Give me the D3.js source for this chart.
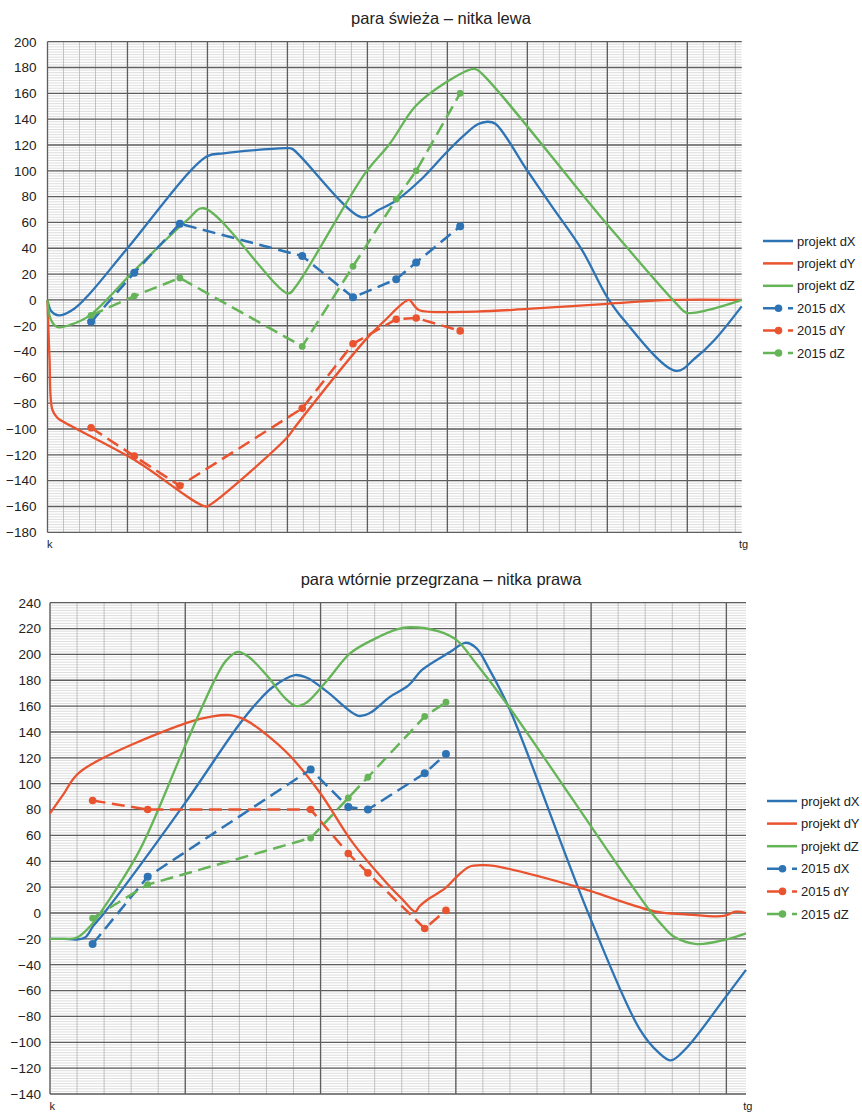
<!DOCTYPE html>
<html>
<head>
<meta charset="utf-8">
<script src="https://cdn.jsdelivr.net/npm/d3@7"></script>
<style>
  body { margin: 0; background: #fff; }
  svg text { font-family: "Liberation Sans", Arial, sans-serif; fill: #222; }
</style>
</head>
<body>
<svg id="chart" width="862" height="1116"></svg>
<script>
// ---- chart 1: para świeża – nitka lewa ----
const freshTitle = "para świeża – nitka lewa";
const freshXMax = 86.8;
const freshYTicks = d3.range(-180, 201, 20);

const freshDxPos = [0, 0.5, 1.4, 3.3, 5.3, 10, 19.9, 22, 26, 30, 30.6, 39.3, 41.5, 43.6, 47, 49.7, 52, 53.8, 55, 56, 59.9, 63, 66.8, 69.9, 72, 78.6, 81, 83.4, 86.8];
const freshDxVal = [0, -9, -12, -7, 5, 40, 111, 113.5, 116, 117.5, 117, 64, 70, 77, 95, 113, 127, 136, 138, 136.5, 101, 73, 39, 3, -15, -55, -45, -31, -5];

const freshDyPos = [0, 0.25, 0.6, 1.2, 1.6, 10.9, 19.8, 20.5, 29.9, 31, 39.9, 42, 45.2, 45.8, 46.5, 53.6, 60, 70, 78.2, 86.8];
const freshDyVal = [0, -45, -85, -91, -93, -124, -160, -158, -107, -98, -30, -17, 0, -4, -8, -9, -7, -3, 0, 0];

const freshDzPos = [0, 0.4, 1.2, 3, 5.3, 10.9, 17.5, 19.5, 30.1, 31, 39.7, 42.8, 46, 49.7, 53.2, 53.8, 69.9, 78.8, 79.9, 83.4, 86.8];
const freshDzVal = [0, -15, -21, -19, -12, 23, 62, 71, 5, 10, 98, 121, 150, 168, 179, 178, 59, -4, -10, -6.5, 0];

const fresh2015Pos = [5.45, 10.85, 16.55, 31.85, 38.2, 43.6, 46.1, 51.6];
const fresh2015Dx = [-17, 21, 59, 34, 2, 16, 29, 57];
const fresh2015Dy = [-99, -121, -144, -84, -34, -15, -14, -24];
const fresh2015Dz = [-12, 3, 17, -36, 26, 78, 100, 160];

// ---- chart 2: para wtórnie przegrzana – nitka prawa ----
const reheatTitle = "para wtórnie przegrzana – nitka prawa";
const reheatXMax = 51.45;
const reheatYTicks = d3.range(-140, 241, 20);

const reheatDxPos = [0, 1, 2, 2.6, 3.2, 4, 9.98, 14, 15.5, 16.5, 18.1, 19, 20.5, 22.8, 23.7, 25.1, 26.5, 27.5, 29.6, 30.7, 31.5, 32.5, 34, 39.9, 43.6, 45, 45.9, 47, 49.8, 51.45];
const reheatDxVal = [-20, -20, -20.5, -19, -10, 0, 85, 146, 165, 175, 184, 182, 171, 152.5, 155, 167, 176, 188, 202, 209, 205, 188, 157, -3, -90, -108, -114, -105, -67, -44];

const reheatDyPos = [0, 1, 2.2, 10.1, 12, 13.3, 14.5, 16, 17.7, 19.96, 22.4, 24.9, 26.1, 27, 27.3, 28, 29.2, 30.06, 31, 32, 32.8, 38.9, 44.8, 47, 49.8, 50.7, 51.45];
const reheatDyVal = [77, 92, 109, 147, 152, 153, 149, 138, 122, 93, 54, 23, 10, 1, 5, 11, 19, 28, 35.8, 37, 36.5, 20.4, 1, -1, -2.3, 1, 0];

const reheatDzPos = [0, 1, 2, 3, 4.2, 6.65, 9.85, 12.07, 13, 13.87, 14.7, 16, 17.4, 18.2, 19, 20.5, 22.2, 24, 25.7, 26.6, 28.8, 30.06, 31.5, 33.75, 44.3, 45.3, 46.07, 47.8, 49.8, 51.45];
const reheatDzVal = [-20, -20, -19, -10, 7.5, 49, 126, 178, 195, 202, 198, 184, 166, 160, 163, 180, 201, 212, 219.5, 221, 217.6, 211, 193, 162, 2.3, -10, -18, -24, -21, -15.7];

const reheat2015Pos = [3.15, 7.22, 19.27, 22.05, 23.5, 27.7, 29.27];
const reheat2015Dx = [-24, 28, 111, 82, 80, 108, 123];
const reheat2015Dy = [87, 80, 80, 46, 31, -12, 2];
const reheat2015Dz = [-4, 22, 58, 89, 105, 152, 163];

const seriesNames = ["projekt dX", "projekt dY", "projekt dZ", "2015 dX", "2015 dY", "2015 dZ"];
const xEndLabels = ["k", "tg"];

const colBlue = "#2e74b5", colRed = "#e9532f", colGreen = "#65b457";

const zip = (xs, ys) => xs.map((x, i) => [x, ys[i]]);

const svg = d3.select("#chart");

function drawChart(cfg) {
  const g = svg.append("g");
  const x = d3.scaleLinear().domain([0, cfg.xMax]).range([cfg.left, cfg.right]);
  const y = d3.scaleLinear().domain([cfg.yTicks[0], cfg.yTicks[cfg.yTicks.length - 1]]).range([cfg.bottom, cfg.top]);
  const [y0, y1] = y.domain();

  // title
  g.append("text").attr("x", cfg.titleX).attr("y", cfg.titleY)
    .attr("text-anchor", "middle").style("font-size", "16.5px").text(cfg.title);

  // grid: fine horizontal, fine vertical, then major lines
  const grid = g.append("g");
  grid.selectAll(".hmin").data(d3.range(y0, y1 + 0.01, 2)).join("line")
    .attr("x1", cfg.left).attr("x2", cfg.right)
    .attr("y1", d => y(d)).attr("y2", d => y(d))
    .attr("stroke", "#d4d4d4").attr("stroke-width", 0.8);
  grid.selectAll(".vmin").data(d3.range(0, cfg.xMax, 2)).join("line")
    .attr("x1", d => x(d)).attr("x2", d => x(d))
    .attr("y1", cfg.top).attr("y2", cfg.bottom)
    .attr("stroke", "#b4b4b4").attr("stroke-width", 0.8);
  grid.selectAll(".hmaj").data(cfg.yTicks).join("line")
    .attr("x1", cfg.left).attr("x2", cfg.right)
    .attr("y1", d => y(d)).attr("y2", d => y(d))
    .attr("stroke", "#5e5e5e").attr("stroke-width", 1.3);
  grid.selectAll(".vmaj").data(d3.range(0, cfg.xMax, 10)).join("line")
    .attr("x1", d => x(d)).attr("x2", d => x(d))
    .attr("y1", cfg.top).attr("y2", cfg.bottom)
    .attr("stroke", "#5e5e5e").attr("stroke-width", 1.3);

  // y axis labels
  const yAxis = g.append("g").attr("transform", `translate(${cfg.left},0)`)
    .call(d3.axisLeft(y).tickValues(cfg.yTicks).tickSize(0).tickPadding(cfg.yPad).tickFormat(d3.format("d")));
  yAxis.select(".domain").remove();
  yAxis.selectAll("text").style("font-size", "13.5px").attr("fill", "#222");

  // x axis end labels
  const xAxis = g.append("g").attr("transform", `translate(0,${cfg.bottom})`)
    .call(d3.axisBottom(x).tickValues([0, cfg.xMax]).tickSize(0).tickPadding(8)
      .tickFormat((d, i) => xEndLabels[i]));
  xAxis.select(".domain").remove();
  xAxis.selectAll("text").style("font-size", "11px").attr("fill", "#222")
    .attr("text-anchor", (d, i) => i === 0 ? "start" : "end")
    .attr("dx", (d, i) => i === 0 ? -1 : 6);

  // design curves
  const smooth = d3.line().x(d => x(d[0])).y(d => y(d[1])).curve(d3.curveCatmullRom.alpha(0.5));
  const straight = d3.line().x(d => x(d[0])).y(d => y(d[1]));
  const lines = g.append("g");
  cfg.project.forEach(s => {
    lines.append("path").attr("d", smooth(s.pts)).attr("fill", "none")
      .attr("stroke", s.color).attr("stroke-width", 2.3).attr("stroke-linejoin", "round");
  });
  // 2015 measurements
  cfg.measured.forEach(s => {
    lines.append("path").attr("d", straight(s.pts)).attr("fill", "none")
      .attr("stroke", s.color).attr("stroke-width", 2.5).attr("stroke-dasharray", "13,6.5");
    lines.selectAll(null).data(s.pts).join("circle")
      .attr("cx", d => x(d[0])).attr("cy", d => y(d[1])).attr("r", s.r).attr("fill", s.color);
  });

  // legend
  const leg = g.append("g");
  const items = cfg.project.concat(cfg.measured);
  items.forEach((s, i) => {
    const cy = cfg.legY + i * cfg.legStep;
    const row = leg.append("g");
    if (i < 3) {
      row.append("line").attr("x1", cfg.legX).attr("x2", cfg.legX + 30)
        .attr("y1", cy).attr("y2", cy).attr("stroke", s.color).attr("stroke-width", 2.5);
    } else {
      row.append("line").attr("x1", cfg.legX).attr("x2", cfg.legX + 30)
        .attr("y1", cy).attr("y2", cy).attr("stroke", s.color).attr("stroke-width", 2.5)
        .attr("stroke-dasharray", "17,8");
      row.append("circle").attr("cx", cfg.legX + 15.5).attr("cy", cy).attr("r", 3.8).attr("fill", s.color);
    }
    row.append("text").attr("x", cfg.legX + 34).attr("y", cy).attr("dy", "0.35em")
      .style("font-size", "13px").text(seriesNames[i]);
  });
}

drawChart({
  title: freshTitle, titleX: 441, titleY: 24,
  left: 47.5, right: 741.7, top: 41.7, bottom: 532.3,
  xMax: freshXMax, yTicks: freshYTicks, yPad: 11,
  legX: 763, legY: 241, legStep: 22.4,
  project: [
    { pts: zip(freshDxPos, freshDxVal), color: colBlue },
    { pts: zip(freshDyPos, freshDyVal), color: colRed },
    { pts: zip(freshDzPos, freshDzVal), color: colGreen }
  ],
  measured: [
    { pts: zip(fresh2015Pos, fresh2015Dx), color: colBlue, r: 4 },
    { pts: zip(fresh2015Pos, fresh2015Dy), color: colRed, r: 3.8 },
    { pts: zip(fresh2015Pos, fresh2015Dz), color: colGreen, r: 3.4 }
  ]
});

drawChart({
  title: reheatTitle, titleX: 441, titleY: 585,
  left: 50, right: 746, top: 602.7, bottom: 1094,
  xMax: reheatXMax, yTicks: reheatYTicks, yPad: 9,
  legX: 767, legY: 801, legStep: 22.6,
  project: [
    { pts: zip(reheatDxPos, reheatDxVal), color: colBlue },
    { pts: zip(reheatDyPos, reheatDyVal), color: colRed },
    { pts: zip(reheatDzPos, reheatDzVal), color: colGreen }
  ],
  measured: [
    { pts: zip(reheat2015Pos, reheat2015Dx), color: colBlue, r: 4 },
    { pts: zip(reheat2015Pos, reheat2015Dy), color: colRed, r: 3.8 },
    { pts: zip(reheat2015Pos, reheat2015Dz), color: colGreen, r: 3.4 }
  ]
});
</script>
</body>
</html>
